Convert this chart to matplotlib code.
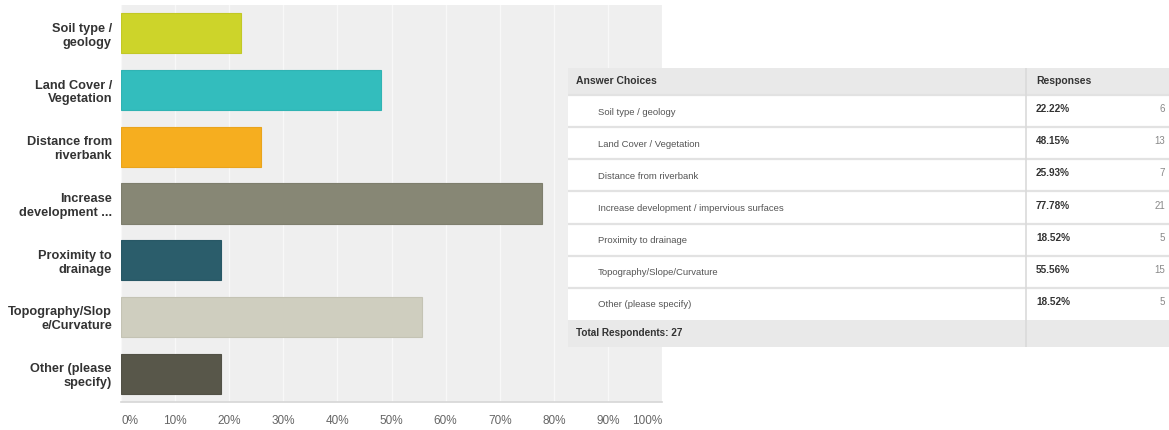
import matplotlib
matplotlib.use("Agg")
import matplotlib.pyplot as plt
from matplotlib.patches import Rectangle

plt.rcParams['font.family'] = ['Liberation Sans', 'DejaVu Sans']

# ---- data ----
categories = ["Soil type /\ngeology", "Land Cover /\nVegetation", "Distance from\nriverbank",
              "Increase\ndevelopment ...", "Proximity to\ndrainage", "Topography/Slop\ne/Curvature",
              "Other (please\nspecify)"]
table_labels = ["Soil type / geology", "Land Cover / Vegetation", "Distance from riverbank",
                "Increase development / impervious surfaces", "Proximity to drainage",
                "Topography/Slope/Curvature", "Other (please specify)"]
percents = [22.22, 48.15, 25.93, 77.78, 18.52, 55.56, 18.52]
counts = [6, 13, 7, 21, 5, 15, 5]
total_respondents = 27
colors = ["#cdd42a", "#33bdbd", "#f6ae1f", "#878775", "#2b5d6b", "#cfcebf", "#58574a"]
edge_colors = ["#c2c826", "#30b3b3", "#e9a41d", "#7e7e6d", "#285866", "#c4c3b4", "#525146"]
xticks = list(range(0, 101, 10))
xtick_labels = [f"{t}%" for t in xticks]

W, H = 1169, 430
fig = plt.figure(figsize=(W / 100, H / 100), dpi=100)
fig.patch.set_facecolor("white")

# ---- bar chart ----
ax = fig.add_axes([121 / W, (H - 402) / H, (662 - 121) / W, (402 - 5) / H])
ax.set_facecolor("#efefef")
ypos = list(range(len(categories)))
ax.barh(ypos, percents, height=0.71, color=colors, edgecolor=edge_colors,
        linewidth=0.8, zorder=3)
ax.set_xlim(0, 100)
ax.set_ylim(len(categories) - 0.5, -0.5)
ax.set_xticks(xticks)
ax.xaxis.grid(True, color="#f8f8f8", linewidth=1.0, zorder=1)
ax.set_axisbelow(True)
for s in ["top", "right", "left"]:
    ax.spines[s].set_visible(False)
ax.spines["bottom"].set_color("#d6d6d6")
ax.spines["bottom"].set_linewidth(1.2)
ax.tick_params(axis="x", length=0, pad=9.5, labelsize=8.5, labelcolor="#666666")
ax.set_xticklabels(xtick_labels)
for i, lab in enumerate(ax.get_xticklabels()):
    if i == 0:
        lab.set_ha("left")
    elif i == len(xticks) - 1:
        lab.set_ha("right")
ax.set_yticks(ypos)
ax.set_yticklabels(categories, fontsize=9.2, fontweight="bold", color="#333333",
                   linespacing=1.2)
ax.tick_params(axis="y", length=0, pad=6.5)

# ---- table ----
tx0, tx1, ty0, ty1 = 568, 1169, 68, 347
tax = fig.add_axes([tx0 / W, (H - ty1) / H, (tx1 - tx0) / W, (ty1 - ty0) / H])
tw, th = tx1 - tx0, ty1 - ty0
tax.set_xlim(0, tw)
tax.set_ylim(th, 0)
tax.axis("off")
header_h = 27
total_h = 27
row_h = (th - header_h - total_h) / len(table_labels)
col_x = 1026 - tx0
sep = "#e2e2e2"

tax.add_patch(Rectangle((0, 0), tw, header_h, facecolor="#e9e9e9", edgecolor="none"))
tax.text(8, header_h / 2, "Answer Choices", fontsize=7.5, fontweight="bold",
         color="#333333", va="center")
tax.text(col_x + 10, header_h / 2, "Responses", fontsize=7.5, fontweight="bold",
         color="#333333", va="center")
for i, (lab, p, c) in enumerate(zip(table_labels, percents, counts)):
    y0 = header_h + i * row_h
    tax.add_patch(Rectangle((0, y0), tw, row_h, facecolor="white", edgecolor="none"))
    tax.plot([0, tw], [y0, y0], color=sep, linewidth=1.6)
    tax.text(30, y0 + row_h / 2 + 1, lab, fontsize=6.8, color="#555555", va="center")
    tax.text(col_x + 10, y0 + row_h / 2 - 2, f"{p:.2f}%", fontsize=7.2,
             fontweight="bold", color="#333333", va="center")
    tax.text(tw - 4, y0 + row_h / 2 - 2, str(c), fontsize=7, color="#888888",
             va="center", ha="right")
yt = header_h + len(table_labels) * row_h
tax.add_patch(Rectangle((0, yt), tw, total_h, facecolor="#e9e9e9", edgecolor="none"))
tax.text(8, yt + total_h / 2, f"Total Respondents: {total_respondents}", fontsize=7.2,
         fontweight="bold", color="#333333", va="center")
tax.plot([col_x, col_x], [0, th], color="#dadada", linewidth=1.2)

fig.savefig("out.png", dpi=100)
